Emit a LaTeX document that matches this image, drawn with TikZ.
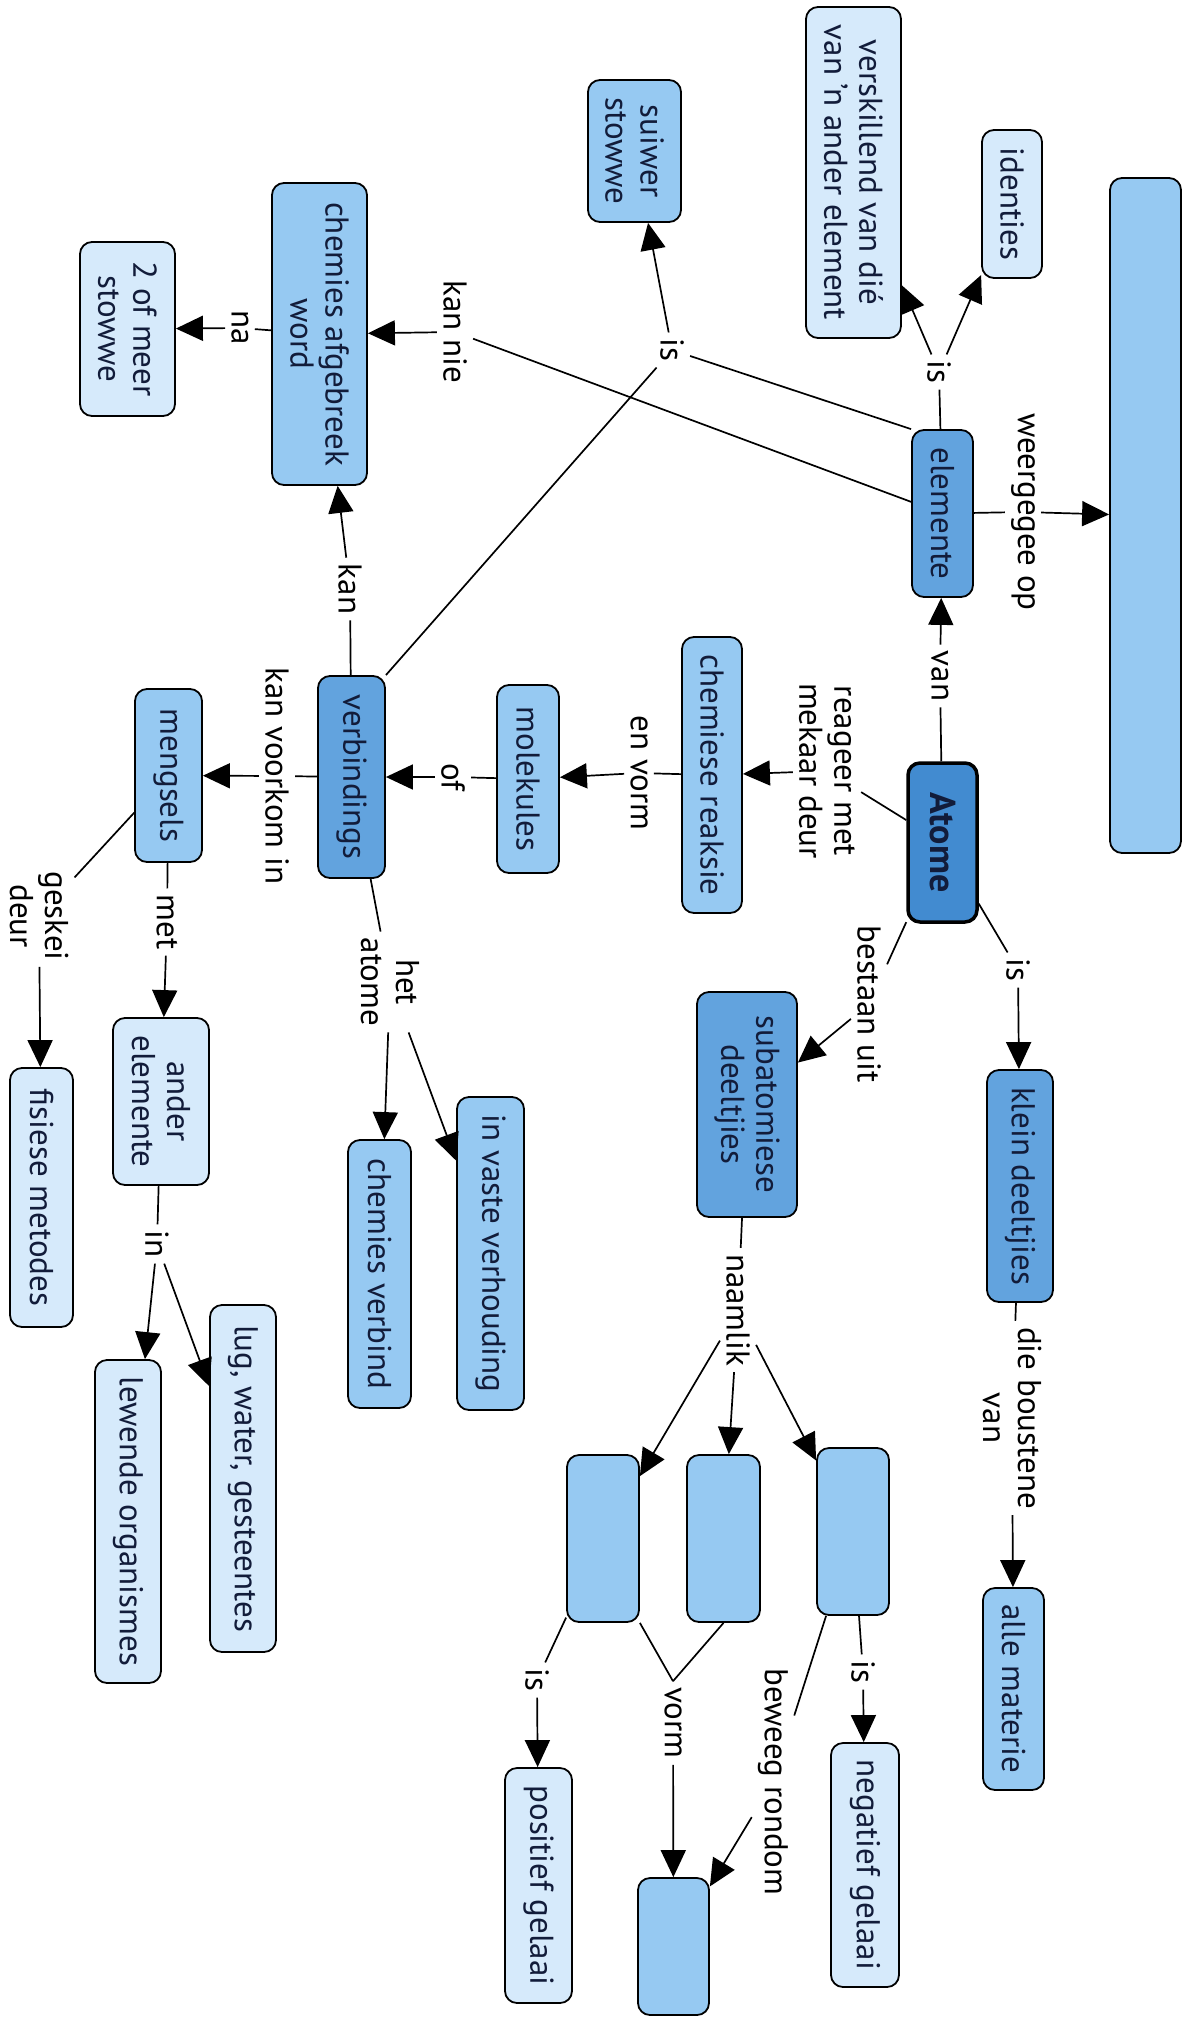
\documentclass[tikz,border=0pt]{standalone}
\usepackage{fontspec}
\setmainfont{PT Sans}
\usetikzlibrary{arrows.meta}
\definecolor{rootblue}{RGB}{66,139,208}
\definecolor{darkblue}{RGB}{98,163,222}
\definecolor{midblue}{RGB}{150,201,242}
\definecolor{paleblue}{RGB}{214,234,251}
\definecolor{conceptink}{RGB}{18,28,58}

\begin{document}
\begin{tikzpicture}[
    x=1pt, y=-1pt,
    font=\fontsize{33}{35}\selectfont,
    concept/.style={
      draw=black, line width=1.8pt, rounded corners=12pt, rotate=-90,
      inner sep=5pt, align=center, fill=midblue, text=conceptink
    },
    darkc/.style={concept, fill=darkblue},
    palec/.style={concept, fill=paleblue},
    rootc/.style={concept, fill=rootblue, line width=3.5pt,
      font=\fontsize{36}{38}\selectfont\bfseries},
    sz/.style 2 args={minimum width=#1, minimum height=#2},
    phrase/.style={rotate=-90, inner sep=6pt, align=center, text=black},
    link/.style={line width=1.7pt},
    arr/.style={line width=1.7pt, -{Triangle[length=27pt,width=25pt]}},
  ]
    \useasboundingbox (0,0) rectangle (1190,2017);

    %── CONCEPTS ────────────────────────────────────────────────────────
    \node[concept, sz={675}{71}]  (tabel)      at (1145.5,515.5) {};
    \node[palec,   sz={148}{60}]  (identies)   at (1012,204)     {identies};
    \node[palec,   sz={331}{95}]  (verskil)    at (853.5,172.5)  {verskillend van dié\\van 'n ander element};
    \node[concept, sz={142}{93}]  (suiwer)     at (634.5,151)    {suiwer\\stowwe};
    \node[concept, sz={302}{95}]  (afbreek)    at (319.5,334)    {chemies afgebreek\\word};
    \node[palec,   sz={174}{95}]  (meer)       at (127.5,329)    {2 of meer\\stowwe};
    \node[darkc,   sz={167}{61}]  (elemente)   at (942.5,513.5)  {elemente};
    \node[rootc,   sz={159}{69}]  (atome)      at (942.5,842.5)  {Atome};
    \node[concept, sz={276}{60}]  (reaksie)    at (712,775)      {chemiese reaksie};
    \node[concept, sz={188}{62}]  (molekules)  at (528,779)      {molekules};
    \node[darkc,   sz={202}{67}]  (verbindings) at (351.5,777)   {verbindings};
    \node[concept, sz={173}{67}]  (mengsels)   at (168.5,775.5)  {mengsels};
    \node[darkc,   sz={232}{66}]  (klein)      at (1020,1186)    {klein deeltjies};
    \node[darkc,   sz={225}{100}] (subatoom)   at (747,1104.5)   {subatomiese\\deeltjies};
    \node[concept, sz={313}{67}]  (vaste)      at (490.5,1253.5) {in vaste verhouding};
    \node[concept, sz={268}{63}]  (chemverb)   at (379.5,1274)   {chemies verbind};
    \node[palec,   sz={167}{96}]  (ander)      at (161,1101.5)   {ander\\elemente};
    \node[palec,   sz={259}{63}]  (fisies)     at (41.5,1197.5)  {fisiese metodes};
    \node[palec,   sz={347}{66}]  (lug)        at (243,1478.5)   {lug, water, gesteentes};
    \node[palec,   sz={323}{66}]  (lewend)     at (128,1521.5)   {lewende organismes};
    \node[concept, sz={202}{61}]  (materie)    at (1013.5,1689)  {alle materie};
    \node[concept, sz={167}{72}]  (leegA)      at (603,1538.5)   {};
    \node[concept, sz={167}{73}]  (leegB)      at (723.5,1538.5) {};
    \node[concept, sz={167}{72}]  (leegC)      at (853,1531.5)   {};
    \node[palec,   sz={244}{68}]  (negatief)   at (865,1865)     {negatief gelaai};
    \node[concept, sz={137}{71}]  (leegD)      at (673.5,1946.5) {};
    \node[palec,   sz={235}{67}]  (positief)   at (538.5,1885.5) {positief gelaai};

    %── LINKING PHRASES ─────────────────────────────────────────────────
    \node[phrase] (weergegee) at (1023,512)  {weergegee op};
    \node[phrase] (van)       at (940,676)   {van};
    \node[phrase] (isElem)    at (939,372)   {is};
    \node[phrase] (isSuiwer)  at (672,350)   {is};
    \node[phrase] (kannie)    at (455,332)   {kan nie};
    \node[phrase] (na)        at (240,328)   {na};
    \node[phrase] (kan)       at (350,589)   {kan};
    \node[phrase] (reageer)   at (827,771)   {reageer met\\mekaar deur};
    \node[phrase] (envorm)    at (639,773)   {en vorm};
    \node[phrase] (of)        at (453,777)   {of};
    \node[phrase] (voorkom)   at (277,776)   {kan voorkom in};
    \node[phrase] (hetatome)  at (390,982)   {het\\atome};
    \node[phrase] (met)       at (167,922)   {met};
    \node[phrase] (geskei)    at (39,916)    {geskei\\deur};
    \node[phrase] (inAnder)   at (157,1244)  {in};
    \node[phrase] (isKlein)   at (1018,970)  {is};
    \node[phrase] (bestaan)   at (869,1004)  {bestaan uit};
    \node[phrase] (boustene)  at (1012,1418) {die boustene\\van};
    \node[phrase] (naamlik)   at (738,1310)  {naamlik};
    \node[phrase] (isNeg)     at (863,1672)  {is};
    \node[phrase] (beweeg)    at (773,1782)  {beweeg rondom};
    \node[phrase] (vorm)      at (673,1723)  {vorm};
    \node[phrase] (isPos)     at (537,1680)  {is};

    %── CONNECTORS: concept -- phrase -> concept ────────────────────────
    \draw[link] (elemente) -- (weergegee);  \draw[arr] (weergegee) -- (tabel);
    \draw[link] (atome) -- (van);           \draw[arr] (van) -- (elemente);
    \draw[link] (elemente) -- (isElem);
    \draw[arr] (isElem) -- (verskil);
    \draw[arr] (isElem) -- (identies);
    \draw[link] (elemente.south west) -- (isSuiwer);
    \draw[link] (verbindings.north west) -- (isSuiwer);
    \draw[arr] (isSuiwer) -- (suiwer);
    \draw[link] (elemente) -- (kannie);     \draw[arr] (kannie) -- (afbreek);
    \draw[link] (afbreek) -- (na);          \draw[arr] (na) -- (meer);
    \draw[link] (verbindings) -- (kan);     \draw[arr] (kan) -- (afbreek);
    \draw[link] (atome) -- (reageer);       \draw[arr] (reageer) -- (reaksie);
    \draw[link] (reaksie) -- (envorm);      \draw[arr] (envorm) -- (molekules);
    \draw[link] (molekules) -- (of);        \draw[arr] (of) -- (verbindings);
    \draw[link] (verbindings) -- (voorkom); \draw[arr] (voorkom) -- (mengsels);
    \draw[link] (verbindings) -- (hetatome);
    \draw[arr] (hetatome) -- (vaste);
    \draw[arr] (hetatome) -- (chemverb);
    \draw[link] (mengsels) -- (met);        \draw[arr] (met) -- (ander);
    \draw[link] (mengsels) -- (geskei);     \draw[arr] (geskei) -- (fisies);
    \draw[link] (ander) -- (inAnder);
    \draw[arr] (inAnder) -- (lug);
    \draw[arr] (inAnder) -- (lewend);
    \draw[link] (atome) -- (isKlein);       \draw[arr] (isKlein) -- (klein);
    \draw[link] (klein) -- (boustene);      \draw[arr] (boustene) -- (materie);
    \draw[link] (atome) -- (bestaan);       \draw[arr] (bestaan) -- (subatoom);
    \draw[link] (subatoom) -- (naamlik);
    \draw[arr] (naamlik) -- (leegA);
    \draw[arr] (naamlik) -- (leegB);
    \draw[arr] (naamlik) -- (leegC);
    \draw[link] (leegC) -- (isNeg);         \draw[arr] (isNeg) -- (negatief);
    \draw[link] (leegC) -- (beweeg);        \draw[arr] (beweeg) -- (leegD);
    \draw[link] (leegA.north east) -- (vorm.west);
    \draw[link] (leegB.east) -- (vorm.west);
    \draw[arr] (vorm) -- (leegD);
    \draw[link] (leegA) -- (isPos);         \draw[arr] (isPos) -- (positief);

  \end{tikzpicture}
\end{document}
